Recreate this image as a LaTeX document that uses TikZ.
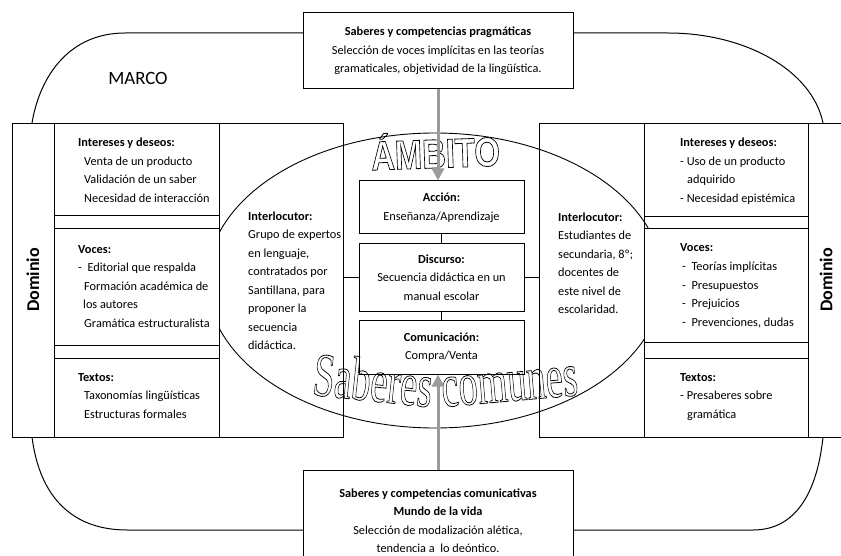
\documentclass[tikz,border=0pt]{standalone}
\usepackage{fontspec}
\setmainfont{Carlito}
\newfontfamily\artsans{Liberation Sans}
\newfontfamily\artserif{Liberation Serif}
\usepackage{graphicx}
\usetikzlibrary{arrows.meta,positioning}
\definecolor{arrowgray}{RGB}{155,155,155}
% hollow letters (stroke only)
\newcommand{\hollow}[1]{\special{pdf:literal direct 1 Tr 0.8 w}#1\special{pdf:literal direct 0 Tr}}

\begin{document}
\begin{tikzpicture}[x=1pt,y=-1pt,
node distance=9pt,
box/.style={draw,line width=1pt,fill=white,align=center,inner sep=2pt,font=\fontsize{12.3}{18.5}\selectfont},
cell/.style={anchor=base west,align=left,inner sep=0pt,font=\fontsize{12.3}{18.5}\selectfont},
panel/.style={draw,line width=1pt,fill=white,minimum height=313pt},
link/.style={line width=1pt},
garrow/.style={draw=arrowgray,line width=3pt,-{Triangle[length=12pt,width=12pt]}},
dom/.style={rotate=90,font=\fontsize{18}{20}\selectfont\bfseries}
]
\useasboundingbox (0,0) rectangle (841,556);
\clip (0,0) rectangle (841,556);

% marco
\draw[line width=1pt] (125,33) -- (668,33) .. controls (745,33) and (812,70) .. (823,123)
  -- (823,437) .. controls (818,485) and (800,530) .. (753,530) -- (127,530)
  .. controls (75,530) and (40,500) .. (32,437) -- (32,123) .. controls (40,75) and (70,33) .. cycle;
\node[font=\fontsize{18.8}{22}\selectfont] (marco) at (138,78) {MARCO};

\node[box,minimum width=270pt,minimum height=76pt] (pragm) at (438,51)
  {\textbf{Saberes y competencias pragmáticas}\\Selección de voces implícitas en las teorías\\gramaticales, objetividad de la lingüística.};
\node[box,minimum width=270pt,minimum height=100pt,anchor=north] (comun) at (438,470)
  {\textbf{Saberes y competencias comunicativas}\\\textbf{Mundo de la vida}\\Selección de modalización alética,\\tendencia a\ \ lo deóntico.};

% dominios
\node[panel,minimum width=331pt] (lpanel) at (177.5,280.5) {};
\node[panel,minimum width=306pt] (rpanel) at (692,280.5) {};

% ambito
\draw[line width=0.9pt] (435,280.5) ellipse [x radius=228, y radius=147.5];

\filldraw[fill=white,line width=1pt] (54,229) rectangle (219,345);
\filldraw[fill=white,line width=1pt] (644,229) rectangle (808,342);
\draw[link] (54,124) -- (54,437) (219,124) -- (219,437) (54,216) -- (219,216) (54,358) -- (219,358);
\draw[link] (644,124) -- (644,437) (808,124) -- (808,437) (644,217) -- (808,217) (644,358) -- (808,358);

\node[dom] (domL) at (33,280) {Dominio};
\node[dom] (domR) at (826,280) {Dominio};

% base = last line
\node[cell] (intL) at (78,202.5) {\textbf{Intereses y deseos:}\\\hspace*{6pt}Venta de un producto\\\hspace*{6pt}Validación de un saber\\\hspace*{6pt}Necesidad de interacción};
\node[cell] (vocL) at (78,327) {\textbf{Voces:}\\-\ \ Editorial que respalda\\\hspace*{6pt}Formación académica de\\\hspace*{5pt}los autores\\\hspace*{6pt}Gramática estructuralista};
\node[cell] (texL) at (78,418) {\textbf{Textos:}\\\hspace*{6pt}Taxonomías lingüísticas\\\hspace*{6pt}Estructuras formales};
\node[cell] (intlocL) at (248,349.5) {\textbf{Interlocutor:}\\Grupo de expertos\\en lenguaje,\\contratados por\\Santillana, para\\proponer la\\secuencia\\didáctica.};

\node[cell] (intR) at (680,202.5) {\textbf{Intereses y deseos:}\\- Uso de un producto\\\hspace*{7pt}adquirido\\- Necesidad epistémica};
\node[cell] (vocR) at (680,326) {\textbf{Voces:}\\\hspace*{2pt}-\ \ Teorías implícitas\\\hspace*{2pt}-\ \ Presupuestos\\\hspace*{2pt}-\ \ Prejuicios\\\hspace*{2pt}-\ \ Prevenciones, dudas};
\node[cell] (texR) at (680,418) {\textbf{Textos:}\\- Presaberes sobre\\\hspace*{7pt}gramática};
\node[cell] (intlocR) at (558,313.5) {\textbf{Interlocutor:}\\Estudiantes de\\secundaria, 8º;\\docentes de\\este nivel de\\escolaridad.};

% centro
\node[box,minimum width=165pt,minimum height=53pt] (accion) at (441.5,207.5) {\textbf{Acción:}\\Enseñanza/Aprendizaje};
\node[box,minimum width=165pt,minimum height=67pt,below=of accion] (disc) {\textbf{Discurso:}\\Secuencia didáctica en un\\manual escolar};
\node[box,minimum width=165pt,minimum height=54pt,below=8pt of disc] (comu) {\textbf{Comunicación:}\\Compra/Venta};

\draw[link] (accion) -- (disc);
\draw[link] (disc) -- (comu);
\draw[link] (disc.west) -- (disc.west -| lpanel.east);
\draw[link] (disc.east) -- (disc.east -| rpanel.west);

\node[anchor=base,inner sep=0pt,rotate=2] (ambito) at (436,168)
  {\scalebox{0.8}[1]{\artsans\bfseries\fontsize{41}{42}\selectfont\hollow{ÁMBITO}}};
\node[anchor=base,inner sep=0pt,rotate=-6] (saberes) at (371,401)
  {\scalebox{0.62}[1]{\artserif\fontsize{62}{64}\selectfont\hollow{Saberes}}};
\node[anchor=base,inner sep=0pt,rotate=5] (comunes) at (511,401)
  {\scalebox{0.62}[1]{\artserif\fontsize{62}{64}\selectfont\hollow{comunes}}};

\draw[garrow] (pragm.south) -- (pragm.south |- accion.north);
\draw[garrow] (comun.north) -- (comun.north |- comu.south);
\end{tikzpicture}
\end{document}
